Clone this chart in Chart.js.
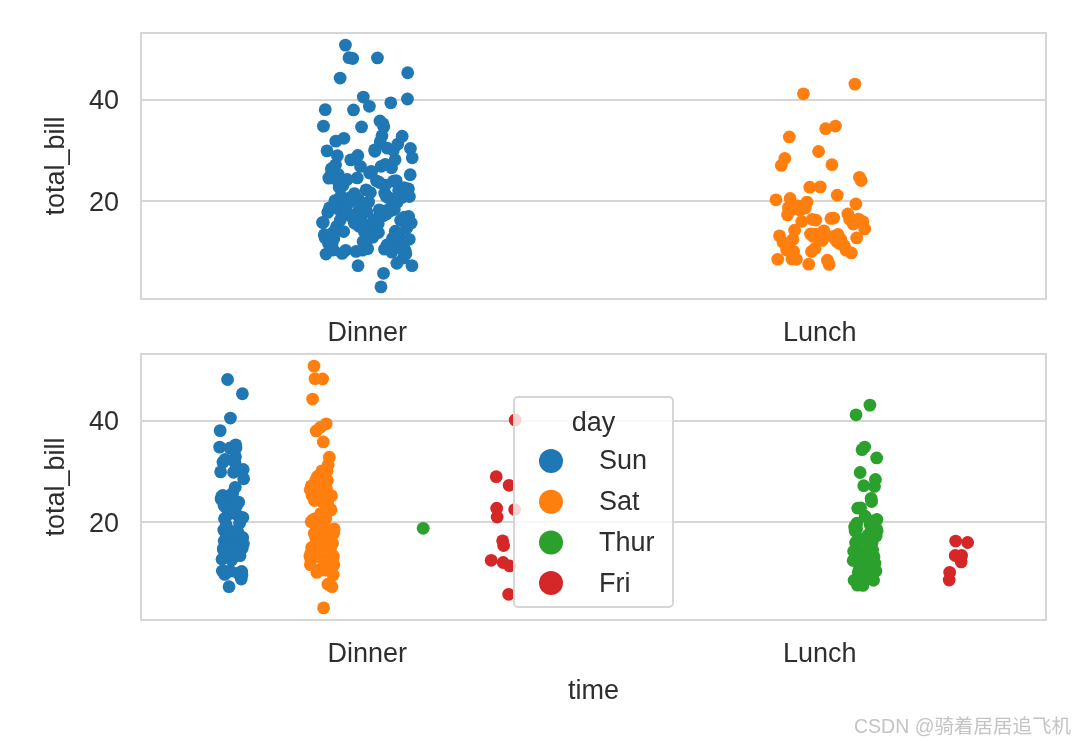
<!DOCTYPE html>
<html>
<head>
<meta charset="utf-8">
<script src="https://cdn.jsdelivr.net/npm/chart.js@4.4.0/dist/chart.umd.min.js"></script>
<style>
  body { margin: 0; background: #fff; width: 1080px; height: 741px; position: relative; overflow: hidden }
  canvas { position: absolute; left: 0 }
  #top { top: 0 }
  #bottom { top: 340px }
  #mark { position: absolute; left: 854px; top: 710px; font: 19.5px "Liberation Sans", "Noto Sans CJK SC", sans-serif; color: #c4c4c4; white-space: nowrap }
</style>
</head>
<body>
<canvas id="top" width="1080" height="370"></canvas>
<canvas id="bottom" width="1080" height="401"></canvas>
<div id="mark">CSDN @骑着居居追飞机</div>
<script>
// tips : total_bill par service (haut) et par jour (bas)
const times = ['Dinner', 'Lunch']
const days = ['Sun', 'Sat', 'Thur', 'Fri']
const yTicks = [20, 40]

const sunDinner = [16.99, 10.34, 21.01, 23.68, 24.59, 25.29, 8.77, 26.88, 15.04, 14.78, 10.27, 35.26, 15.42, 18.43, 14.83, 21.58, 10.33, 16.29, 16.97,
  17.46, 13.94, 9.68, 30.40, 18.29, 22.23, 32.40, 28.55, 18.04, 12.54, 10.29, 34.81, 9.94, 25.56, 19.49,
  38.07, 23.95, 25.71, 17.31, 29.93,
  14.07, 13.13, 17.26, 24.55, 19.77, 29.85, 48.17, 25.00, 13.39, 16.49, 21.50, 12.66, 16.21, 13.81, 17.51, 24.52, 20.76, 31.71,
  7.25, 31.85, 16.82, 32.90, 17.89, 14.48, 9.60, 34.63, 34.65, 23.33, 45.35, 23.17, 40.55, 20.69, 20.90, 30.46, 18.15, 23.10, 15.69]
const satDinner = [20.65, 17.92, 20.29, 15.77, 39.42, 19.82, 17.81, 13.37, 12.69, 21.70, 19.65, 9.55, 18.35, 15.06, 20.69, 17.78, 24.06, 16.31, 16.93, 18.69, 31.27, 16.04,
  38.01, 26.41, 11.24, 48.27, 20.29, 13.81, 11.02, 18.29, 17.59, 20.08, 16.45, 3.07, 20.23, 15.01, 12.02, 17.07, 26.86, 25.28, 14.73, 10.51, 17.92,
  44.30, 22.42, 20.92, 15.36, 20.49, 25.21, 18.24, 14.31, 14.00, 7.25,
  10.59, 10.63, 50.81, 15.81,
  26.59, 38.73, 24.27, 12.76, 30.06, 25.89, 48.33, 13.27, 28.17, 12.90, 28.15, 11.59, 7.74, 30.14,
  20.45, 13.28, 22.12, 24.01, 15.69, 11.61, 10.77, 15.53, 10.07, 12.60, 32.83, 35.83, 29.03, 27.18, 22.67, 17.82]
const thurDinner = [18.78]
const friDinner = [28.97, 22.49, 5.75, 16.32, 22.75, 40.17, 27.28, 12.03, 21.01, 12.46, 11.35, 15.38]
const thurLunch = [27.20, 22.76, 17.29, 19.44, 16.66, 10.07, 32.68, 15.98, 34.83, 13.03, 18.28, 24.71, 21.16,
  10.65, 12.43, 24.08, 11.69, 13.42, 14.26, 15.95, 12.48, 29.80, 8.52, 14.52, 11.38, 22.82, 19.08, 20.27, 11.17, 12.26, 18.26, 8.51, 10.33,
  14.15, 16.00, 13.16, 17.47, 34.30, 41.19, 27.05, 16.43, 8.35, 18.64, 11.87, 9.78, 7.51,
  19.81, 28.44, 15.48, 16.58, 7.56, 10.34, 43.11, 13.00, 13.51, 18.71, 12.74, 13.00, 16.40, 20.53, 16.47]
const friLunch = [12.16, 13.42, 8.58, 15.98, 13.42, 16.27, 10.09]
const sunLunch = []
const satLunch = []

const colors = ['#1f77b4', '#ff7f0e', '#2ca02c', '#d62728']
const FONT = '"Liberation Sans", Arial, sans-serif'
const TXT = '#2e2e2e'
const GRID = '#d6d6d6'

// decalage horizontal deterministe (jitter) dans [-1, 1]
function spread(i) {
  return ((i * 0.7548776662 + 0.37) % 1) * 2 - 1
}
function toPoints(values, cat, offset, width, seed) {
  return values.map((v, i) => ({ x: cat + offset + spread(i + seed) * width, y: v }))
}

// cadre gris autour de la zone du graphe
const frame = {
  id: 'frame',
  afterDatasetsDraw(chart) {
    const { ctx, chartArea: a } = chart
    ctx.save()
    ctx.strokeStyle = GRID
    ctx.lineWidth = 2
    ctx.strokeRect(a.left, a.top, a.right - a.left, a.bottom - a.top)
    ctx.restore()
  }
}

// legende "day" en bas au centre du graphe du bas
const dayLegend = {
  id: 'dayLegend',
  afterDraw(chart) {
    const { ctx, chartArea: a } = chart
    const w = 159, h = 210
    const x = (a.left + a.right) / 2 - w / 2
    const y = a.bottom - 13 - h
    ctx.save()
    ctx.beginPath()
    ctx.roundRect(x, y, w, h, 4)
    ctx.fillStyle = 'rgba(255,255,255,0.8)'
    ctx.fill()
    ctx.strokeStyle = GRID
    ctx.lineWidth = 2
    ctx.stroke()
    ctx.font = '27px ' + FONT
    ctx.fillStyle = TXT
    ctx.textBaseline = 'middle'
    ctx.textAlign = 'center'
    ctx.fillText('day', x + w / 2, y + 27)
    ctx.textAlign = 'left'
    chart.data.datasets.forEach((ds, i) => {
      const cy = y + 64 + i * 40.7
      ctx.beginPath()
      ctx.arc(x + 37, cy, 12, 0, Math.PI * 2)
      ctx.fillStyle = ds.backgroundColor
      ctx.fill()
      ctx.fillStyle = TXT
      ctx.fillText(ds.label, x + 85, cy + 1)
    })
    ctx.restore()
  }
}

function makeScales(xHeight, showTime) {
  return {
    x: {
      type: 'linear', min: -0.5, max: 1.5,
      afterBuildTicks: s => { s.ticks = times.map((t, i) => ({ value: i })) },
      afterFit: s => { s.height = xHeight; s.paddingLeft = 0; s.paddingRight = 0 },
      grid: { display: false },
      border: { display: false },
      ticks: { callback: v => times[v], font: { family: FONT, size: 27 }, color: TXT, padding: 10, maxRotation: 0 },
      title: { display: showTime, text: 'time', font: { family: FONT, size: 27 }, color: TXT, padding: { top: 0, bottom: 33 } }
    },
    y: {
      min: 0.68, max: 53.2,
      afterBuildTicks: s => { s.ticks = yTicks.map(v => ({ value: v })) },
      afterFit: s => { s.width = 141; s.paddingTop = 0; s.paddingBottom = 0 },
      grid: { color: GRID, lineWidth: 2, drawTicks: false },
      border: { display: false },
      ticks: { font: { family: FONT, size: 27 }, color: TXT, padding: 22, labelOffset: 2 },
      title: { display: true, text: 'total_bill', font: { family: FONT, size: 27 }, color: TXT, padding: { top: 40, bottom: 0 } }
    }
  }
}

const common = {
  animation: false,
  responsive: false,
  devicePixelRatio: 1,
  events: [],
  plugins: { legend: { display: false }, tooltip: { enabled: false } }
}

// Graphe du haut : un nuage par service
new Chart(document.getElementById('top'), {
  type: 'scatter',
  data: {
    datasets: [
      { label: 'Dinner', data: toPoints(sunDinner.concat(satDinner, thurDinner, friDinner), 0, 0, 0.1, 0), backgroundColor: colors[0], pointRadius: 6.4, borderWidth: 0 },
      { label: 'Lunch', data: toPoints(thurLunch.concat(friLunch), 1, 0, 0.1, 3), backgroundColor: colors[1], pointRadius: 6.4, borderWidth: 0 }
    ]
  },
  options: Object.assign({}, common, {
    layout: { padding: { top: 33, right: 34, left: 0, bottom: 0 } },
    scales: makeScales(71, false)
  }),
  plugins: [frame]
})

// Graphe du bas : par jour, decales (dodge)
const byDay = [[sunDinner, sunLunch], [satDinner, satLunch], [thurDinner, thurLunch], [friDinner, friLunch]]
new Chart(document.getElementById('bottom'), {
  type: 'scatter',
  data: {
    datasets: days.map((d, k) => ({
      label: d,
      data: toPoints(byDay[k][0], 0, -0.3 + 0.2 * k, 0.027, k * 7).concat(toPoints(byDay[k][1], 1, -0.3 + 0.2 * k, 0.027, k * 7 + 2)),
      backgroundColor: colors[k],
      pointRadius: 6.4,
      borderWidth: 0
    }))
  },
  options: Object.assign({}, common, {
    layout: { padding: { top: 14, right: 34, left: 0, bottom: 0 } },
    scales: makeScales(121, true)
  }),
  plugins: [frame, dayLegend]
})
</script>
</body>
</html>
